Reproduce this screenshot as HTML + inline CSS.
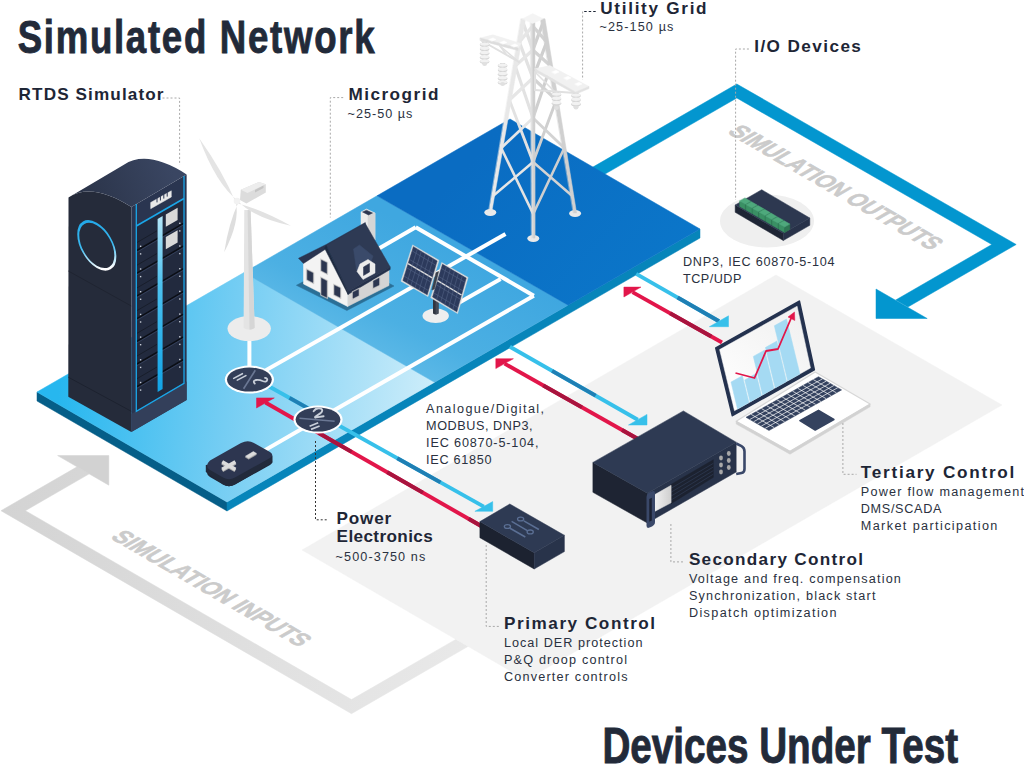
<!DOCTYPE html><html><head><meta charset="utf-8"><style>html,body{margin:0;padding:0;background:#fff;width:1024px;height:774px;overflow:hidden}svg{display:block}</style></head><body>
<svg width="1024" height="774" viewBox="0 0 1024 774">
<defs>
<linearGradient id="gLeft" gradientUnits="userSpaceOnUse" x1="60" y1="380" x2="430" y2="420">
  <stop offset="0" stop-color="#27b7ef"/><stop offset="0.45" stop-color="#74cdf3"/><stop offset="1" stop-color="#cdedfa"/></linearGradient>
<linearGradient id="gMicro" gradientUnits="userSpaceOnUse" x1="420" y1="230" x2="350" y2="370">
  <stop offset="0" stop-color="#3fa7e0"/><stop offset="0.6" stop-color="#4cb0e3"/><stop offset="1" stop-color="#66bee9"/></linearGradient>
<linearGradient id="gUtil" gradientUnits="userSpaceOnUse" x1="480" y1="150" x2="640" y2="300">
  <stop offset="0" stop-color="#0a6cc2"/><stop offset="1" stop-color="#0b76c9"/></linearGradient>
<linearGradient id="gGreyArrow" gradientUnits="userSpaceOnUse" x1="0" y1="500" x2="480" y2="640">
  <stop offset="0" stop-color="#d3d3d3"/><stop offset="1" stop-color="#e9e9e9"/></linearGradient>
<linearGradient id="gRackTop" gradientUnits="userSpaceOnUse" x1="80" y1="200" x2="170" y2="165">
  <stop offset="0" stop-color="#2a3348"/><stop offset="1" stop-color="#3a4662"/></linearGradient>
<linearGradient id="gRing" gradientUnits="userSpaceOnUse" x1="80" y1="225" x2="112" y2="268">
  <stop offset="0" stop-color="#1aa3e6"/><stop offset="0.7" stop-color="#4cc0f0"/><stop offset="1" stop-color="#ffffff"/></linearGradient>
<linearGradient id="gRingL" x1="0" y1="0" x2="0.6" y2="1">
  <stop offset="0" stop-color="#1aa3e6"/><stop offset="0.6" stop-color="#3cbaf0"/><stop offset="1" stop-color="#ffffff"/></linearGradient>
<linearGradient id="gScreen" gradientUnits="userSpaceOnUse" x1="720" y1="400" x2="800" y2="310">
  <stop offset="0" stop-color="#ffffff"/><stop offset="1" stop-color="#f0f0f0"/></linearGradient>
<linearGradient id="gTower" gradientUnits="userSpaceOnUse" x1="0" y1="0" x2="1" y2="0">
  <stop offset="0" stop-color="#ececec"/><stop offset="1" stop-color="#d4d4d4"/></linearGradient>
</defs>
<polygon points="77.1,466.8 1.0,510.7 351.5,713.7 480.0,639.5 480.0,625.4 351.5,699.6 25.4,510.7 89.3,473.8" fill="url(#gGreyArrow)"  stroke="url(#gGreyArrow)" stroke-width="0.5" stroke-linejoin="round"/>
<polygon points="57.6,455.6 108.8,455.6 108.8,485.2" fill="#d2d2d2"  stroke="#d2d2d2" stroke-width="0.5" stroke-linejoin="round"/>
<polygon points="302.0,550.0 776.0,275.0 1002.0,405.0 526.0,680.0" fill="#f2f2f2"  stroke="#f2f2f2" stroke-width="0.5" stroke-linejoin="round"/>
<polygon points="560.8,185.6 736.8,84.0 1016.2,244.5 907.9,307.0 895.7,300.0 991.8,244.5 736.8,98.0 560.8,199.6" fill="#0396cf"  stroke="#0396cf" stroke-width="0.5" stroke-linejoin="round"/>
<polygon points="876.0,289.0 876.0,318.5 927.2,318.5" fill="#0396cf"  stroke="#0396cf" stroke-width="0.5" stroke-linejoin="round"/>
<ellipse cx="767" cy="221" rx="47" ry="26.5" fill="#efefef"/>
<text transform="matrix(0.866,0.5,-0.866,0.5,726.4,132.6)" x="0" y="0" font-family="Liberation Sans, sans-serif" font-size="25.0" font-weight="bold" fill="#cbcbcb" stroke="#cbcbcb" stroke-width="0.7" textLength="236.0" lengthAdjust="spacingAndGlyphs">SIMULATION OUTPUTS</text>
<text transform="matrix(0.866,0.5,-0.866,0.5,109.4,537.8)" x="0" y="0" font-family="Liberation Sans, sans-serif" font-size="25.0" font-weight="bold" fill="#cbcbcb" stroke="#cbcbcb" stroke-width="0.7" textLength="219.0" lengthAdjust="spacingAndGlyphs">SIMULATION INPUTS</text>
<polygon points="37.0,392.0 227.0,502.0 227.0,511.0 37.0,401.0" fill="#055e88"  stroke="#055e88" stroke-width="0.5" stroke-linejoin="round"/>
<polygon points="227.0,502.0 700.0,229.0 700.0,238.0 227.0,511.0" fill="#0785ba"  stroke="#0785ba" stroke-width="0.5" stroke-linejoin="round"/>
<polygon points="37.0,392.0 243.9,272.6 434.5,382.3 227.0,502.0" fill="url(#gLeft)"  stroke="url(#gLeft)" stroke-width="0.5" stroke-linejoin="round"/>
<polygon points="243.9,272.6 377.0,195.8 568.0,305.2 434.5,382.3" fill="url(#gMicro)"  stroke="url(#gMicro)" stroke-width="0.5" stroke-linejoin="round"/>
<polygon points="377.0,195.8 510.0,119.0 700.0,229.0 568.0,305.2" fill="url(#gUtil)"  stroke="url(#gUtil)" stroke-width="0.5" stroke-linejoin="round"/>
<line x1="249.4" y1="379.6" x2="505.5" y2="234.0" stroke="#ffffff" stroke-width="4.0" />
<line x1="318.0" y1="419.6" x2="533.8" y2="295.7" stroke="#ffffff" stroke-width="4.0" />
<line x1="533.8" y1="295.7" x2="415.7" y2="227.3" stroke="#ffffff" stroke-width="4.0" stroke-linejoin="miter"/>
<line x1="415.7" y1="227.3" x2="372.0" y2="252.5" stroke="#ffffff" stroke-width="4.0" />
<line x1="500.6" y1="279.0" x2="455.0" y2="305.0" stroke="#ffffff" stroke-width="4.0" />
<line x1="249.4" y1="330.0" x2="249.4" y2="379.6" stroke="#ffffff" stroke-width="4.0" />
<line x1="318.0" y1="419.6" x2="250.0" y2="458.8" stroke="#ffffff" stroke-width="4.0" />
<g id="rack">
<path d="M68.5,197.4 Q92,181.8 131.4,207 L131.3,432 L68.3,396.8 Z" fill="#252b3a"/>
<path d="M68.3,377.2 L131.3,411.3" stroke="#1b202c" stroke-width="0.8"/>
<path d="M68.3,271 L131.3,306" stroke="#1c212d" stroke-width="0.7"/>
<path d="M131.4,207 L186.6,174.4 L186.6,399.9 L131.3,432 Z" fill="#2a3550"/>
<path d="M68.5,197.4 Q92,181.8 131.4,207 L186.6,174.4 Q147.2,149.2 123.9,164.8 Z" fill="url(#gRackTop)"/>
<path d="M136.3,226 L184,198.5 L184,383.4 L136.3,411.3 Z" fill="#222a3e"/>
<path d="M131.3,414 L186.6,381.5 L186.6,399.9 L131.3,432 Z" fill="#333f5a"/>
<path d="M137,250.5 L183.5,223.3" stroke="#0b0e15" stroke-width="1.5"/>
<path d="M137,252.1 L183.5,224.9" stroke="#3b4866" stroke-width="0.7"/>
<path d="M137,242.5 L157,230.8" stroke="#151a26" stroke-width="0.8"/>
<rect x="139.9" y="245.6" width="1.4" height="1.4" fill="#c9ced8"/>
<rect x="139.9" y="253.2" width="1.4" height="1.4" fill="#c9ced8"/>
<rect x="179.1" y="222.6" width="1.4" height="1.4" fill="#c9ced8"/>
<rect x="179.1" y="230.2" width="1.4" height="1.4" fill="#c9ced8"/>
<path d="M137,273.2 L183.5,246.0" stroke="#0b0e15" stroke-width="1.5"/>
<path d="M137,274.8 L183.5,247.6" stroke="#3b4866" stroke-width="0.7"/>
<path d="M137,265.2 L157,253.5" stroke="#151a26" stroke-width="0.8"/>
<rect x="139.9" y="268.3" width="1.4" height="1.4" fill="#c9ced8"/>
<rect x="139.9" y="275.9" width="1.4" height="1.4" fill="#c9ced8"/>
<rect x="179.1" y="245.3" width="1.4" height="1.4" fill="#c9ced8"/>
<rect x="179.1" y="252.9" width="1.4" height="1.4" fill="#c9ced8"/>
<path d="M137,295.9 L183.5,268.7" stroke="#0b0e15" stroke-width="1.5"/>
<path d="M137,297.5 L183.5,270.3" stroke="#3b4866" stroke-width="0.7"/>
<path d="M137,287.9 L157,276.2" stroke="#151a26" stroke-width="0.8"/>
<rect x="139.9" y="291.0" width="1.4" height="1.4" fill="#c9ced8"/>
<rect x="139.9" y="298.6" width="1.4" height="1.4" fill="#c9ced8"/>
<rect x="179.1" y="268.0" width="1.4" height="1.4" fill="#c9ced8"/>
<rect x="179.1" y="275.6" width="1.4" height="1.4" fill="#c9ced8"/>
<path d="M137,318.6 L183.5,291.4" stroke="#0b0e15" stroke-width="1.5"/>
<path d="M137,320.2 L183.5,293.0" stroke="#3b4866" stroke-width="0.7"/>
<path d="M137,310.6 L157,298.9" stroke="#151a26" stroke-width="0.8"/>
<rect x="139.9" y="313.7" width="1.4" height="1.4" fill="#c9ced8"/>
<rect x="139.9" y="321.3" width="1.4" height="1.4" fill="#c9ced8"/>
<rect x="179.1" y="290.7" width="1.4" height="1.4" fill="#c9ced8"/>
<rect x="179.1" y="298.3" width="1.4" height="1.4" fill="#c9ced8"/>
<path d="M137,341.3 L183.5,314.1" stroke="#0b0e15" stroke-width="1.5"/>
<path d="M137,342.9 L183.5,315.7" stroke="#3b4866" stroke-width="0.7"/>
<path d="M137,333.3 L157,321.6" stroke="#151a26" stroke-width="0.8"/>
<rect x="139.9" y="336.4" width="1.4" height="1.4" fill="#c9ced8"/>
<rect x="139.9" y="344.0" width="1.4" height="1.4" fill="#c9ced8"/>
<rect x="179.1" y="313.4" width="1.4" height="1.4" fill="#c9ced8"/>
<rect x="179.1" y="321.0" width="1.4" height="1.4" fill="#c9ced8"/>
<path d="M137,364.0 L183.5,336.8" stroke="#0b0e15" stroke-width="1.5"/>
<path d="M137,365.6 L183.5,338.4" stroke="#3b4866" stroke-width="0.7"/>
<path d="M137,356.0 L157,344.3" stroke="#151a26" stroke-width="0.8"/>
<rect x="139.9" y="359.1" width="1.4" height="1.4" fill="#c9ced8"/>
<rect x="139.9" y="366.7" width="1.4" height="1.4" fill="#c9ced8"/>
<rect x="179.1" y="336.1" width="1.4" height="1.4" fill="#c9ced8"/>
<rect x="179.1" y="343.7" width="1.4" height="1.4" fill="#c9ced8"/>
<path d="M137,386.7 L183.5,359.5" stroke="#0b0e15" stroke-width="1.5"/>
<path d="M137,388.3 L183.5,361.1" stroke="#3b4866" stroke-width="0.7"/>
<path d="M137,378.7 L157,367.0" stroke="#151a26" stroke-width="0.8"/>
<rect x="139.9" y="381.8" width="1.4" height="1.4" fill="#c9ced8"/>
<rect x="139.9" y="389.4" width="1.4" height="1.4" fill="#c9ced8"/>
<rect x="179.1" y="358.8" width="1.4" height="1.4" fill="#c9ced8"/>
<rect x="179.1" y="366.4" width="1.4" height="1.4" fill="#c9ced8"/>
<path d="M136.3,204 L136.3,411.3 L184,383.4 L184,176" fill="none" stroke="#1aa6e8" stroke-width="1.3"/>
<path d="M136.3,226 L184,198.5" stroke="#1aa6e8" stroke-width="1.6"/>
<linearGradient id="gBar" gradientUnits="userSpaceOnUse" x1="0" y1="215" x2="0" y2="392"><stop offset="0" stop-color="#b6e6f8"/><stop offset="0.4" stop-color="#4cc1ef"/><stop offset="1" stop-color="#11a3e6"/></linearGradient>
<path d="M157.6,219 L162.6,216 L162.6,389 L157.6,392 Z" fill="url(#gBar)"/>
<path d="M165.8,214.5 L177.6,207.8 L177.6,220 L165.8,226.7 Z" fill="#d9d9d9"/>
<path d="M165.8,237 L177.6,230.3 L177.6,242.5 L165.8,249.2 Z" fill="#d9d9d9"/>
<polygon points="150.7,202.5 171.3,190.8 171.3,197.0 150.7,208.7" fill="#e9e9e9"  stroke="#e9e9e9" stroke-width="0.5" stroke-linejoin="round"/>
<line x1="157.0" y1="198.0" x2="157.0" y2="202.4" stroke="#2a3550" stroke-width="1.0" />
<line x1="160.4" y1="196.1" x2="160.4" y2="200.5" stroke="#2a3550" stroke-width="1.0" />
<line x1="163.8" y1="194.2" x2="163.8" y2="198.6" stroke="#2a3550" stroke-width="1.0" />
<line x1="167.2" y1="192.2" x2="167.2" y2="196.6" stroke="#2a3550" stroke-width="1.0" />
<circle cx="0" cy="0" r="21.4" transform="matrix(0.866,0.5,0,1,96.8,245.4)" fill="none" stroke="url(#gRingL)" stroke-width="2.3"/>
</g>
<g id="turbine">
<ellipse cx="249.2" cy="328.6" rx="21.7" ry="12.5" fill="#ececec"/>
<path d="M244.3,210 L250.6,210 L254.7,328 Q249.2,331 243.6,328 Z" fill="#e4e4e4"/>
<path d="M247.6,210 L250.6,210 L254.7,328 Q252,329.5 249.5,329.8 Z" fill="#d6d6d6"/>
<path d="M238.0,200.9 Q216.0,184.0 199.2,138.3 Q222.7,171.4 235.7,202.3 Z" fill="#e4e4e4"/>
<path d="M235.8,201.2 Q240.3,221.2 224.2,252.2 Q228.5,223.6 238.5,201.9 Z" fill="#dedede"/>
<path d="M237.5,200.4 Q252.5,217.3 290.8,225.8 Q262.4,209.9 236.4,202.9 Z" fill="#e2e2e2"/>
<path d="M240.8,189.7 L259,182 L265.8,184.2 L265.8,192.5 L246.4,203.6 L240,200 Z" fill="#dcdcdc"/>
<path d="M240.8,189.7 L259,182 L265.8,184.2 L247.5,193 Z" fill="#ededed"/>
<path d="M255,190 L263.5,185.5 L263.5,188 L255,192.5 Z" fill="#c4c4c4"/>
<circle cx="237" cy="201" r="3.3" fill="#f2f2f2"/>
</g>
<g id="house">
<polygon points="296.4,285.3 346.9,310.5 394.0,286.0 345.0,260.0" fill="#2b6f96"  stroke="#2b6f96" stroke-width="0.5" stroke-linejoin="round"/>
<polygon points="347.6,291.0 389.0,267.5 389.0,285.5 347.6,306.5" fill="#d4d4d4"  stroke="#d4d4d4" stroke-width="0.5" stroke-linejoin="round"/>
<polygon points="303.5,262.5 326.2,248.0 347.6,291.0 347.6,306.5 303.5,284.0" fill="#f3f3f3"  stroke="#f3f3f3" stroke-width="0.5" stroke-linejoin="round"/>
<polygon points="306.3,268.7 313.9,272.5 313.9,283.9 306.3,280.1" fill="#c4c4c4"  stroke="#c4c4c4" stroke-width="0.5" stroke-linejoin="round"/>
<polygon points="307.3,270.2 312.9,273.0 312.9,282.4 307.3,279.6" fill="#2c3650"  stroke="#2c3650" stroke-width="0.5" stroke-linejoin="round"/>
<polygon points="320.5,258.7 327.7,262.3 327.7,274.7 320.5,271.1" fill="#c4c4c4"  stroke="#c4c4c4" stroke-width="0.5" stroke-linejoin="round"/>
<polygon points="321.5,260.2 326.7,262.8 326.7,273.2 321.5,270.6" fill="#2c3650"  stroke="#2c3650" stroke-width="0.5" stroke-linejoin="round"/>
<polygon points="320.5,276.8 327.7,280.4 327.7,298.8 320.5,295.2" fill="#c4c4c4"  stroke="#c4c4c4" stroke-width="0.5" stroke-linejoin="round"/>
<polygon points="321.5,278.3 326.7,280.9 326.7,297.3 321.5,294.7" fill="#2c3650"  stroke="#2c3650" stroke-width="0.5" stroke-linejoin="round"/>
<polygon points="333.5,283.9 341.0,287.6 341.0,298.8 333.5,295.1" fill="#c4c4c4"  stroke="#c4c4c4" stroke-width="0.5" stroke-linejoin="round"/>
<polygon points="334.5,285.4 340.0,288.1 340.0,297.3 334.5,294.6" fill="#2c3650"  stroke="#2c3650" stroke-width="0.5" stroke-linejoin="round"/>
<polygon points="361.0,212.0 366.5,209.0 375.0,213.0 375.0,240.0 361.0,240.0" fill="#ececec"  stroke="#ececec" stroke-width="0.5" stroke-linejoin="round"/>
<polygon points="368.0,212.0 375.0,213.0 375.0,240.0 368.0,240.0" fill="#d6d6d6"  stroke="#d6d6d6" stroke-width="0.5" stroke-linejoin="round"/>
<polygon points="362.5,212.0 366.5,210.2 372.5,213.0 368.5,215.0" fill="#2c3650"  stroke="#2c3650" stroke-width="0.5" stroke-linejoin="round"/>
<polygon points="298.5,258.3 326.2,244.5 365.3,222.5 365.3,225.5 328.0,247.5 303.5,263.5" fill="#2a3550"  stroke="#2a3550" stroke-width="0.5" stroke-linejoin="round"/>
<polygon points="326.2,245.5 365.3,223.5 390.2,267.0 347.8,291.5" fill="#2e3a54"  stroke="#2e3a54" stroke-width="0.5" stroke-linejoin="round"/>
<polygon points="347.8,291.5 390.2,267.0 390.2,269.5 348.0,294.5" fill="#24304a"  stroke="#24304a" stroke-width="0.5" stroke-linejoin="round"/>
<polygon points="326.2,245.5 347.8,291.5 348.0,294.5 324.5,248.0" fill="#1f2a40"  stroke="#1f2a40" stroke-width="0.5" stroke-linejoin="round"/>
<polygon points="353.5,249.0 359.5,245.0 373.0,256.0 366.5,275.0 356.5,270.0" fill="#3a4a6a"  stroke="#3a4a6a" stroke-width="0.5" stroke-linejoin="round"/>
<polygon points="360.0,264.0 368.0,259.5 375.0,264.0 375.0,273.0 363.0,279.5 357.0,271.5" fill="#ececec"  stroke="#ececec" stroke-width="0.5" stroke-linejoin="round"/>
<polygon points="363.5,267.0 369.5,263.5 369.5,272.0 363.5,275.5" fill="#2c3650"  stroke="#2c3650" stroke-width="0.5" stroke-linejoin="round"/>
<polygon points="352.0,291.7 359.5,287.9 359.5,295.9 352.0,299.7" fill="#c4c4c4"  stroke="#c4c4c4" stroke-width="0.5" stroke-linejoin="round"/>
<polygon points="353.0,292.2 358.5,289.4 358.5,295.4 353.0,298.2" fill="#2c3650"  stroke="#2c3650" stroke-width="0.5" stroke-linejoin="round"/>
<polygon points="372.5,280.5 380.0,276.8 380.0,285.4 372.5,289.1" fill="#c4c4c4"  stroke="#c4c4c4" stroke-width="0.5" stroke-linejoin="round"/>
<polygon points="373.5,281.0 379.0,278.2 379.0,284.9 373.5,287.6" fill="#2c3650"  stroke="#2c3650" stroke-width="0.5" stroke-linejoin="round"/>
</g>
<g id="solar">
<ellipse cx="435.7" cy="315.8" rx="13.2" ry="7.3" fill="#eeeeee"/>
<path d="M433,297 L438.5,296 L438.5,313.5 Q435.7,315.5 433,313.5 Z" fill="#30353f"/>
<path d="M435.6,298 L438.5,296 L438.5,313.5 L435.6,314.5 Z" fill="#454b57"/>
<polygon points="412.6,244.9 439.0,260.3 428.0,296.6 401.0,281.2" fill="#dcdcdc"  stroke="#dcdcdc" stroke-width="0.5" stroke-linejoin="round"/>
<polygon points="413.4,246.7 437.1,261.0 427.2,294.8 402.9,280.5" fill="#2c3a5c"  stroke="#2c3a5c" stroke-width="0.5" stroke-linejoin="round"/>
<line x1="408.1" y1="263.6" x2="432.2" y2="277.9" stroke="#dcdcdc" stroke-width="1.4" />
<line x1="417.3" y1="249.1" x2="407.0" y2="282.9" stroke="#5a6a8c" stroke-width="0.5" />
<line x1="421.3" y1="251.5" x2="411.0" y2="285.2" stroke="#5a6a8c" stroke-width="0.5" />
<line x1="425.2" y1="253.9" x2="415.1" y2="287.6" stroke="#5a6a8c" stroke-width="0.5" />
<line x1="429.2" y1="256.3" x2="419.1" y2="290.0" stroke="#5a6a8c" stroke-width="0.5" />
<line x1="433.2" y1="258.6" x2="423.2" y2="292.4" stroke="#5a6a8c" stroke-width="0.5" />
<line x1="412.1" y1="250.9" x2="435.9" y2="265.3" stroke="#5a6a8c" stroke-width="0.5" />
<line x1="409.4" y1="259.4" x2="433.4" y2="273.7" stroke="#5a6a8c" stroke-width="0.5" />
<line x1="406.8" y1="267.8" x2="430.9" y2="282.1" stroke="#5a6a8c" stroke-width="0.5" />
<line x1="404.2" y1="276.2" x2="428.5" y2="290.6" stroke="#5a6a8c" stroke-width="0.5" />
<polygon points="441.7,262.5 468.1,277.4 457.6,313.6 430.7,297.7" fill="#dcdcdc"  stroke="#dcdcdc" stroke-width="0.5" stroke-linejoin="round"/>
<polygon points="442.5,264.3 466.2,278.1 456.8,311.8 432.6,297.0" fill="#2c3a5c"  stroke="#2c3a5c" stroke-width="0.5" stroke-linejoin="round"/>
<line x1="437.5" y1="280.6" x2="461.5" y2="295.0" stroke="#dcdcdc" stroke-width="1.4" />
<line x1="446.4" y1="266.6" x2="436.6" y2="299.5" stroke="#5a6a8c" stroke-width="0.5" />
<line x1="450.4" y1="268.9" x2="440.7" y2="301.9" stroke="#5a6a8c" stroke-width="0.5" />
<line x1="454.4" y1="271.2" x2="444.7" y2="304.4" stroke="#5a6a8c" stroke-width="0.5" />
<line x1="458.3" y1="273.5" x2="448.7" y2="306.9" stroke="#5a6a8c" stroke-width="0.5" />
<line x1="462.3" y1="275.8" x2="452.8" y2="309.3" stroke="#5a6a8c" stroke-width="0.5" />
<line x1="441.2" y1="268.4" x2="465.1" y2="282.3" stroke="#5a6a8c" stroke-width="0.5" />
<line x1="438.8" y1="276.5" x2="462.7" y2="290.8" stroke="#5a6a8c" stroke-width="0.5" />
<line x1="436.3" y1="284.7" x2="460.3" y2="299.2" stroke="#5a6a8c" stroke-width="0.5" />
<line x1="433.8" y1="292.9" x2="458.0" y2="307.6" stroke="#5a6a8c" stroke-width="0.5" />
<polygon points="436.0,272.5 438.6,271.5 434.4,289.0 431.8,290.0" fill="#3a404c"  stroke="#3a404c" stroke-width="0.5" stroke-linejoin="round"/>
</g>
<g id="tower" stroke-linecap="round">
<ellipse cx="490.3" cy="212.5" rx="6" ry="3.4" fill="#eaeaea"/>
<ellipse cx="575.1" cy="213.5" rx="6" ry="3.4" fill="#eaeaea"/>
<ellipse cx="533.3" cy="238.5" rx="6" ry="3.4" fill="#eaeaea"/>
<line x1="522.8" y1="22.0" x2="532.8" y2="50.0" stroke="#e2e2e2" stroke-width="3.4" />
<line x1="532.7" y1="26.0" x2="519.3" y2="42.0" stroke="#e6e6e6" stroke-width="3.4" />
<line x1="519.3" y1="42.0" x2="532.9" y2="78.0" stroke="#e2e2e2" stroke-width="3.3" />
<line x1="532.8" y1="50.0" x2="515.2" y2="66.0" stroke="#e6e6e6" stroke-width="3.2" />
<line x1="515.2" y1="66.0" x2="533.0" y2="118.0" stroke="#e2e2e2" stroke-width="3.1" />
<line x1="532.9" y1="78.0" x2="509.4" y2="100.0" stroke="#e6e6e6" stroke-width="3.1" />
<line x1="509.4" y1="100.0" x2="533.1" y2="162.0" stroke="#e2e2e2" stroke-width="2.9" />
<line x1="533.0" y1="118.0" x2="501.2" y2="148.0" stroke="#e6e6e6" stroke-width="2.8" />
<line x1="501.2" y1="148.0" x2="533.2" y2="214.0" stroke="#e2e2e2" stroke-width="2.6" />
<line x1="533.1" y1="162.0" x2="493.0" y2="196.0" stroke="#e6e6e6" stroke-width="2.5" />
<line x1="543.3" y1="22.0" x2="532.8" y2="50.0" stroke="#cfcfcf" stroke-width="3.4" />
<line x1="532.7" y1="26.0" x2="546.7" y2="42.0" stroke="#d3d3d3" stroke-width="3.4" />
<line x1="546.7" y1="42.0" x2="532.9" y2="78.0" stroke="#cfcfcf" stroke-width="3.3" />
<line x1="532.8" y1="50.0" x2="550.7" y2="66.0" stroke="#d3d3d3" stroke-width="3.2" />
<line x1="550.7" y1="66.0" x2="533.0" y2="118.0" stroke="#cfcfcf" stroke-width="3.1" />
<line x1="532.9" y1="78.0" x2="556.3" y2="100.0" stroke="#d3d3d3" stroke-width="3.1" />
<line x1="556.3" y1="100.0" x2="533.1" y2="162.0" stroke="#cfcfcf" stroke-width="2.9" />
<line x1="533.0" y1="118.0" x2="564.3" y2="148.0" stroke="#d3d3d3" stroke-width="2.8" />
<line x1="564.3" y1="148.0" x2="533.2" y2="214.0" stroke="#cfcfcf" stroke-width="2.6" />
<line x1="533.1" y1="162.0" x2="572.3" y2="196.0" stroke="#d3d3d3" stroke-width="2.5" />
<polygon points="521.0,18.8 525.5,18.8 491.8,211.7 488.8,211.7" fill="#e8e8e8"  stroke="#e8e8e8" stroke-width="0.5" stroke-linejoin="round"/>
<polygon points="540.5,18.8 545.0,18.8 576.6,213.0 573.6,213.0" fill="#d0d0d0"  stroke="#d0d0d0" stroke-width="0.5" stroke-linejoin="round"/>
<polygon points="530.6,22.6 534.8,22.6 534.9,238.0 531.7,238.0" fill="#e0e0e0"  stroke="#e0e0e0" stroke-width="0.5" stroke-linejoin="round"/>
<polygon points="532.9,22.6 534.7,22.6 534.9,238.0 533.5,238.0" fill="#cdcdcd"  stroke="#cdcdcd" stroke-width="0.5" stroke-linejoin="round"/>
<polygon points="522.5,18.8 532.7,13.6 543.3,18.8 532.7,23.4" fill="#f4f4f4"  stroke="#f4f4f4" stroke-width="0.5" stroke-linejoin="round"/>
<polygon points="480.3,38.0 492.8,34.8 521.0,43.5 518.0,48.0" fill="#f1f1f1"  stroke="#f1f1f1" stroke-width="0.5" stroke-linejoin="round"/>
<polygon points="480.3,38.0 518.0,48.0 518.0,50.5 480.3,40.5" fill="#dddddd"  stroke="#dddddd" stroke-width="0.5" stroke-linejoin="round"/>
<line x1="482.0" y1="41.0" x2="519.0" y2="62.0" stroke="#e0e0e0" stroke-width="2.0" />
<line x1="500.0" y1="46.0" x2="519.0" y2="62.0" stroke="#e0e0e0" stroke-width="1.6" />
<line x1="500.0" y1="46.0" x2="506.0" y2="54.0" stroke="#e0e0e0" stroke-width="1.6" />
<polygon points="535.0,68.8 549.8,65.6 589.0,86.4 575.6,92.0" fill="#f1f1f1"  stroke="#f1f1f1" stroke-width="0.5" stroke-linejoin="round"/>
<polygon points="535.0,68.8 575.6,92.0 589.0,86.4 589.0,88.6 575.6,94.3 535.0,71.5" fill="#e2e2e2"  stroke="#e2e2e2" stroke-width="0.5" stroke-linejoin="round"/>
<line x1="535.0" y1="72.0" x2="535.0" y2="90.0" stroke="#e0e0e0" stroke-width="2.0" />
<line x1="535.0" y1="90.0" x2="575.0" y2="93.0" stroke="#e0e0e0" stroke-width="2.0" />
<line x1="535.0" y1="72.0" x2="555.0" y2="92.0" stroke="#e0e0e0" stroke-width="1.6" />
<polygon points="552.0,72.0 556.0,70.2 559.0,72.0 555.0,73.8" fill="#ffffff"  stroke="#ffffff" stroke-width="0.5" stroke-linejoin="round"/>
<polygon points="564.0,78.0 568.0,76.2 571.0,78.0 567.0,79.8" fill="#ffffff"  stroke="#ffffff" stroke-width="0.5" stroke-linejoin="round"/>
<polygon points="575.0,84.0 579.0,82.2 582.0,84.0 578.0,85.8" fill="#ffffff"  stroke="#ffffff" stroke-width="0.5" stroke-linejoin="round"/>
<polygon points="489.0,39.5 493.0,37.9 496.0,39.5 492.0,41.1" fill="#ffffff"  stroke="#ffffff" stroke-width="0.5" stroke-linejoin="round"/>
<polygon points="500.0,42.5 504.0,40.9 507.0,42.5 503.0,44.1" fill="#ffffff"  stroke="#ffffff" stroke-width="0.5" stroke-linejoin="round"/>
<polygon points="511.0,45.5 515.0,43.9 518.0,45.5 514.0,47.1" fill="#ffffff"  stroke="#ffffff" stroke-width="0.5" stroke-linejoin="round"/>
<rect x="482.1" y="42.0" width="5" height="22.0" fill="#d8d8d8"/>
<ellipse cx="484.6" cy="44.8" rx="4.8" ry="2.2" fill="#d6d6d6"/>
<ellipse cx="484.6" cy="44.1" rx="4.5" ry="1.7" fill="#f2f2f2"/>
<ellipse cx="484.6" cy="49.0" rx="4.8" ry="2.2" fill="#d6d6d6"/>
<ellipse cx="484.6" cy="48.3" rx="4.5" ry="1.7" fill="#f2f2f2"/>
<ellipse cx="484.6" cy="53.2" rx="4.8" ry="2.2" fill="#d6d6d6"/>
<ellipse cx="484.6" cy="52.5" rx="4.5" ry="1.7" fill="#f2f2f2"/>
<ellipse cx="484.6" cy="57.4" rx="4.8" ry="2.2" fill="#d6d6d6"/>
<ellipse cx="484.6" cy="56.7" rx="4.5" ry="1.7" fill="#f2f2f2"/>
<ellipse cx="484.6" cy="61.6" rx="4.8" ry="2.2" fill="#d6d6d6"/>
<ellipse cx="484.6" cy="60.9" rx="4.5" ry="1.7" fill="#f2f2f2"/>
<ellipse cx="484.6" cy="64.0" rx="2.4" ry="2.0" fill="#e0e0e0"/>
<rect x="500.1" y="63.0" width="5" height="21.0" fill="#d8d8d8"/>
<ellipse cx="502.6" cy="65.8" rx="4.8" ry="2.2" fill="#d6d6d6"/>
<ellipse cx="502.6" cy="65.1" rx="4.5" ry="1.7" fill="#f2f2f2"/>
<ellipse cx="502.6" cy="70.0" rx="4.8" ry="2.2" fill="#d6d6d6"/>
<ellipse cx="502.6" cy="69.3" rx="4.5" ry="1.7" fill="#f2f2f2"/>
<ellipse cx="502.6" cy="74.2" rx="4.8" ry="2.2" fill="#d6d6d6"/>
<ellipse cx="502.6" cy="73.5" rx="4.5" ry="1.7" fill="#f2f2f2"/>
<ellipse cx="502.6" cy="78.4" rx="4.8" ry="2.2" fill="#d6d6d6"/>
<ellipse cx="502.6" cy="77.7" rx="4.5" ry="1.7" fill="#f2f2f2"/>
<ellipse cx="502.6" cy="82.6" rx="4.8" ry="2.2" fill="#d6d6d6"/>
<ellipse cx="502.6" cy="81.9" rx="4.5" ry="1.7" fill="#f2f2f2"/>
<ellipse cx="502.6" cy="84.0" rx="2.4" ry="2.0" fill="#e0e0e0"/>
<rect x="554.0" y="92.0" width="5" height="16.0" fill="#d8d8d8"/>
<ellipse cx="556.5" cy="94.8" rx="4.8" ry="2.2" fill="#d6d6d6"/>
<ellipse cx="556.5" cy="94.1" rx="4.5" ry="1.7" fill="#f2f2f2"/>
<ellipse cx="556.5" cy="99.0" rx="4.8" ry="2.2" fill="#d6d6d6"/>
<ellipse cx="556.5" cy="98.3" rx="4.5" ry="1.7" fill="#f2f2f2"/>
<ellipse cx="556.5" cy="103.2" rx="4.8" ry="2.2" fill="#d6d6d6"/>
<ellipse cx="556.5" cy="102.5" rx="4.5" ry="1.7" fill="#f2f2f2"/>
<ellipse cx="556.5" cy="108.0" rx="2.4" ry="2.0" fill="#e0e0e0"/>
<rect x="573.5" y="93.0" width="5" height="14.5" fill="#d8d8d8"/>
<ellipse cx="576.0" cy="95.8" rx="4.8" ry="2.2" fill="#d6d6d6"/>
<ellipse cx="576.0" cy="95.1" rx="4.5" ry="1.7" fill="#f2f2f2"/>
<ellipse cx="576.0" cy="100.0" rx="4.8" ry="2.2" fill="#d6d6d6"/>
<ellipse cx="576.0" cy="99.3" rx="4.5" ry="1.7" fill="#f2f2f2"/>
<ellipse cx="576.0" cy="104.2" rx="4.8" ry="2.2" fill="#d6d6d6"/>
<ellipse cx="576.0" cy="103.5" rx="4.5" ry="1.7" fill="#f2f2f2"/>
<ellipse cx="576.0" cy="107.5" rx="2.4" ry="2.0" fill="#e0e0e0"/>
</g>
<g id="battery">
<path d="M210,460.5 L241,443 Q248,439.5 254,443 L270,452 Q274.5,455 270,458 L235,477.5 Q229,481 223,477.5 L210,470 Q204,466 210,460.5 Z" transform="translate(0,7)" fill="#1f2636"/>
<path d="M205.8,465 L205.8,472 L223,484.5 Q229,488 235,484.5 L272.5,462.5 L272.5,455.5 Z" fill="#222a3b"/>
<path d="M210,460.5 L241,443 Q248,439.5 254,443 L270,452 Q274.5,455 270,458 L235,477.5 Q229,481 223,477.5 L210,470 Q204,466 210,460.5 Z" fill="#2d3650"/>
<path d="M222.2,462.9 L235.4,470.5 M222.2,470.5 L235.4,462.9" stroke="#a9a9a9" stroke-width="3.6"/>
<path d="M222.2,461.8 L235.4,469.4 M222.2,469.4 L235.4,461.8" stroke="#dcdcdc" stroke-width="3.6"/>
<polygon points="245.4,457.3 253.3,452.7 256.6,454.6 248.7,459.2" fill="#a9a9a9"  stroke="#a9a9a9" stroke-width="0.5" stroke-linejoin="round"/>
<polygon points="245.4,456.2 253.3,451.6 256.6,453.4 248.7,458.1" fill="#dcdcdc"  stroke="#dcdcdc" stroke-width="0.5" stroke-linejoin="round"/>
</g>
<line x1="262.0" y1="382.5" x2="483.8" y2="506.6" stroke="#37c0ea" stroke-width="3.9"/>
<line x1="289.5" y1="397.9" x2="308.6" y2="408.6" stroke="#1f7fb4" stroke-width="3.9"/>
<line x1="397.3" y1="458.2" x2="440.5" y2="482.4" stroke="#1f7fb4" stroke-width="3.9"/>
<polygon points="474.9,511.3 492.7,501.6 492.7,511.3" fill="#37c0ea"  stroke="#37c0ea" stroke-width="0.5" stroke-linejoin="round"/>
<line x1="265.4" y1="402.5" x2="482.0" y2="526.5" stroke="#e2164a" stroke-width="3.9"/>
<line x1="318.7" y1="433.0" x2="351.6" y2="451.9" stroke="#a8143e" stroke-width="3.9"/>
<line x1="387.3" y1="472.3" x2="422.9" y2="492.6" stroke="#a8143e" stroke-width="3.9"/>
<line x1="468.6" y1="518.8" x2="482.0" y2="526.5" stroke="#a8143e" stroke-width="3.9"/>
<polygon points="256.5,397.9 274.3,397.9 256.5,408.0" fill="#e2164a"  stroke="#e2164a" stroke-width="0.5" stroke-linejoin="round"/>
<line x1="509.9" y1="346.8" x2="637.8" y2="419.7" stroke="#37c0ea" stroke-width="3.9"/>
<line x1="552.1" y1="370.9" x2="595.6" y2="395.6" stroke="#1f7fb4" stroke-width="3.9"/>
<polygon points="628.5,425.0 647.0,414.4 647.0,425.0" fill="#37c0ea"  stroke="#37c0ea" stroke-width="0.5" stroke-linejoin="round"/>
<line x1="504.6" y1="363.6" x2="638.0" y2="439.0" stroke="#e2164a" stroke-width="3.9"/>
<line x1="543.3" y1="385.5" x2="582.0" y2="407.4" stroke="#a8143e" stroke-width="3.9"/>
<line x1="622.0" y1="430.0" x2="638.0" y2="439.0" stroke="#a8143e" stroke-width="3.9"/>
<polygon points="495.8,358.7 513.4,358.7 495.8,368.6" fill="#e2164a"  stroke="#e2164a" stroke-width="0.5" stroke-linejoin="round"/>
<line x1="636.2" y1="273.9" x2="719.0" y2="321.2" stroke="#37c0ea" stroke-width="3.9"/>
<line x1="677.6" y1="297.5" x2="719.0" y2="321.2" stroke="#1f7fb4" stroke-width="3.9"/>
<polygon points="709.4,326.7 728.5,315.8 728.5,326.7" fill="#37c0ea"  stroke="#37c0ea" stroke-width="0.5" stroke-linejoin="round"/>
<line x1="632.5" y1="292.1" x2="722.0" y2="342.5" stroke="#e2164a" stroke-width="3.9"/>
<line x1="670.1" y1="313.3" x2="711.3" y2="336.5" stroke="#a8143e" stroke-width="3.9"/>
<polygon points="623.9,287.1 641.0,287.1 623.9,297.0" fill="#e2164a"  stroke="#e2164a" stroke-width="0.5" stroke-linejoin="round"/>
<ellipse cx="249.4" cy="379.6" rx="24.6" ry="14.0" fill="#ffffff"/>
<ellipse cx="249.4" cy="379.6" rx="22.4" ry="12.0" fill="#333e58"/>
<line x1="243.6" y1="388.7" x2="255.3" y2="370.2" stroke="#6b7894" stroke-width="1.6" />
<path d="M233.7,378.4 L242.4,373.7 M237.3,380.1 L245.9,375.6" stroke="#c9cfd9" stroke-width="1.6" fill="none" stroke-linecap="round"/>
<path d="M254.8,383.6 Q252.2,380.6 256.4,380 Q260,379.8 262.5,381 Q266.6,382.6 267.2,380 Q267.6,378.2 265,377.8" stroke="#c9cfd9" stroke-width="1.8" fill="none" stroke-linecap="round"/>
<ellipse cx="318.0" cy="419.6" rx="24.6" ry="14.0" fill="#ffffff"/>
<ellipse cx="318.0" cy="419.6" rx="22.4" ry="12.0" fill="#333e58"/>
<line x1="299.5" y1="418.3" x2="334.6" y2="421.3" stroke="#6b7894" stroke-width="1.5" />
<path d="M313.6,411.2 Q316.4,407.2 320.8,408.6 Q324,410.4 320.2,413.4 L315.2,416.8 Q314.6,417.6 316.2,417.4 L323.6,416.2" stroke="#c9cfd9" stroke-width="1.9" fill="none" stroke-linecap="round" stroke-linejoin="round"/>
<path d="M309.6,426.2 L318.2,422.8 M311,429.4 L319.6,426" stroke="#c9cfd9" stroke-width="1.7" fill="none"/>
<g id="io">
<polygon points="735.2,205.0 783.3,233.2 783.3,240.5 735.2,212.3" fill="#1e2535"  stroke="#1e2535" stroke-width="0.5" stroke-linejoin="round"/>
<polygon points="783.3,233.2 809.8,218.0 809.8,225.3 783.3,240.5" fill="#283249"  stroke="#283249" stroke-width="0.5" stroke-linejoin="round"/>
<polygon points="735.2,205.0 761.7,189.7 809.8,218.0 783.3,233.2" fill="#2d3850"  stroke="#2d3850" stroke-width="0.5" stroke-linejoin="round"/>
<polygon points="739.7,206.4 745.4,209.7 745.4,204.2 739.7,200.9" fill="#3a9064"  stroke="#3a9064" stroke-width="0.5" stroke-linejoin="round"/>
<polygon points="745.4,209.7 750.6,206.7 750.6,201.2 745.4,204.2" fill="#2e7853"  stroke="#2e7853" stroke-width="0.5" stroke-linejoin="round"/>
<polygon points="739.7,200.9 745.4,204.2 750.6,201.2 744.9,197.9" fill="#4ea97c"  stroke="#4ea97c" stroke-width="0.5" stroke-linejoin="round"/>
<polygon points="746.2,210.2 752.0,213.5 752.0,208.0 746.2,204.7" fill="#3a9064"  stroke="#3a9064" stroke-width="0.5" stroke-linejoin="round"/>
<polygon points="752.0,213.5 757.1,210.5 757.1,205.0 752.0,208.0" fill="#2e7853"  stroke="#2e7853" stroke-width="0.5" stroke-linejoin="round"/>
<polygon points="746.2,204.7 752.0,208.0 757.1,205.0 751.4,201.7" fill="#4ea97c"  stroke="#4ea97c" stroke-width="0.5" stroke-linejoin="round"/>
<polygon points="752.8,214.0 758.5,217.3 758.5,211.8 752.8,208.5" fill="#3a9064"  stroke="#3a9064" stroke-width="0.5" stroke-linejoin="round"/>
<polygon points="758.5,217.3 763.7,214.3 763.7,208.8 758.5,211.8" fill="#2e7853"  stroke="#2e7853" stroke-width="0.5" stroke-linejoin="round"/>
<polygon points="752.8,208.5 758.5,211.8 763.7,208.8 758.0,205.5" fill="#4ea97c"  stroke="#4ea97c" stroke-width="0.5" stroke-linejoin="round"/>
<polygon points="759.3,217.8 765.0,221.1 765.0,215.6 759.3,212.3" fill="#3a9064"  stroke="#3a9064" stroke-width="0.5" stroke-linejoin="round"/>
<polygon points="765.0,221.1 770.2,218.1 770.2,212.6 765.0,215.6" fill="#2e7853"  stroke="#2e7853" stroke-width="0.5" stroke-linejoin="round"/>
<polygon points="759.3,212.3 765.0,215.6 770.2,212.6 764.5,209.3" fill="#4ea97c"  stroke="#4ea97c" stroke-width="0.5" stroke-linejoin="round"/>
<polygon points="765.8,221.6 771.5,224.9 771.5,219.4 765.8,216.1" fill="#3a9064"  stroke="#3a9064" stroke-width="0.5" stroke-linejoin="round"/>
<polygon points="771.5,224.9 776.7,221.9 776.7,216.4 771.5,219.4" fill="#2e7853"  stroke="#2e7853" stroke-width="0.5" stroke-linejoin="round"/>
<polygon points="765.8,216.1 771.5,219.4 776.7,216.4 771.0,213.1" fill="#4ea97c"  stroke="#4ea97c" stroke-width="0.5" stroke-linejoin="round"/>
<polygon points="772.3,225.4 778.1,228.7 778.1,223.2 772.3,219.9" fill="#3a9064"  stroke="#3a9064" stroke-width="0.5" stroke-linejoin="round"/>
<polygon points="778.1,228.7 783.3,225.7 783.3,220.2 778.1,223.2" fill="#2e7853"  stroke="#2e7853" stroke-width="0.5" stroke-linejoin="round"/>
<polygon points="772.3,219.9 778.1,223.2 783.3,220.2 777.5,216.9" fill="#4ea97c"  stroke="#4ea97c" stroke-width="0.5" stroke-linejoin="round"/>
<polygon points="778.9,229.2 784.6,232.5 784.6,227.0 778.9,223.7" fill="#3a9064"  stroke="#3a9064" stroke-width="0.5" stroke-linejoin="round"/>
<polygon points="784.6,232.5 789.8,229.5 789.8,224.0 784.6,227.0" fill="#2e7853"  stroke="#2e7853" stroke-width="0.5" stroke-linejoin="round"/>
<polygon points="778.9,223.7 784.6,227.0 789.8,224.0 784.1,220.7" fill="#4ea97c"  stroke="#4ea97c" stroke-width="0.5" stroke-linejoin="round"/>
</g>
<g id="laptop">
<polygon points="736.2,421.3 815.2,372.0 870.1,404.1 790.0,451.3" fill="#ffffff" stroke="#d7d7d7" stroke-width="1.2" stroke-linejoin="round"/>
<polygon points="736.2,421.3 790.0,451.3 870.1,404.1 870.1,406.8 790.0,454.2 736.2,424.0" fill="#d2d2d2"  stroke="#d2d2d2" stroke-width="0.5" stroke-linejoin="round"/>
<polygon points="746.0,417.3 818.5,376.7 841.6,389.9 769.0,430.5" fill="#34425f"  stroke="#34425f" stroke-width="0.5" stroke-linejoin="round"/>
<line x1="749.8" y1="419.5" x2="822.4" y2="378.9" stroke="#ffffff" stroke-width="0.7" />
<line x1="753.7" y1="421.7" x2="826.2" y2="381.1" stroke="#ffffff" stroke-width="0.7" />
<line x1="757.5" y1="423.9" x2="830.0" y2="383.3" stroke="#ffffff" stroke-width="0.7" />
<line x1="761.3" y1="426.1" x2="833.9" y2="385.5" stroke="#ffffff" stroke-width="0.7" />
<line x1="765.2" y1="428.3" x2="837.8" y2="387.7" stroke="#ffffff" stroke-width="0.7" />
<line x1="751.2" y1="414.4" x2="774.2" y2="427.6" stroke="#ffffff" stroke-width="0.7" />
<line x1="756.4" y1="411.5" x2="779.4" y2="424.7" stroke="#ffffff" stroke-width="0.7" />
<line x1="761.5" y1="408.6" x2="784.6" y2="421.8" stroke="#ffffff" stroke-width="0.7" />
<line x1="766.7" y1="405.7" x2="789.7" y2="418.9" stroke="#ffffff" stroke-width="0.7" />
<line x1="771.9" y1="402.8" x2="794.9" y2="416.0" stroke="#ffffff" stroke-width="0.7" />
<line x1="777.1" y1="399.9" x2="800.1" y2="413.1" stroke="#ffffff" stroke-width="0.7" />
<line x1="782.2" y1="397.0" x2="805.3" y2="410.2" stroke="#ffffff" stroke-width="0.7" />
<line x1="787.4" y1="394.1" x2="810.5" y2="407.3" stroke="#ffffff" stroke-width="0.7" />
<line x1="792.6" y1="391.2" x2="815.7" y2="404.4" stroke="#ffffff" stroke-width="0.7" />
<line x1="797.8" y1="388.3" x2="820.9" y2="401.5" stroke="#ffffff" stroke-width="0.7" />
<line x1="803.0" y1="385.4" x2="826.0" y2="398.6" stroke="#ffffff" stroke-width="0.7" />
<line x1="808.1" y1="382.5" x2="831.2" y2="395.7" stroke="#ffffff" stroke-width="0.7" />
<line x1="813.3" y1="379.6" x2="836.4" y2="392.8" stroke="#ffffff" stroke-width="0.7" />
<polygon points="799.9,420.6 818.5,410.3 833.9,419.5 815.2,430.0" fill="#34425f" stroke="#34425f" stroke-width="1.5" stroke-linejoin="round"/>
<polygon points="715.9,348.0 799.3,301.3 814.2,369.6 732.4,415.5" fill="#24324f" stroke="#24324f" stroke-width="1.8" stroke-linejoin="round"/>
<polygon points="719.6,349.6 797.1,306.2 810.5,368.0 734.5,410.7" fill="url(#gScreen)"  stroke="url(#gScreen)" stroke-width="0.5" stroke-linejoin="round"/>
<polygon points="737.5,409.0 749.0,402.6 742.4,375.7 731.0,382.1" fill="#a5daf3"  stroke="#a5daf3" stroke-width="0.5" stroke-linejoin="round"/>
<polygon points="750.1,401.9 761.5,395.5 756.1,373.5 744.7,379.9" fill="#a5daf3"  stroke="#a5daf3" stroke-width="0.5" stroke-linejoin="round"/>
<polygon points="762.6,394.9 774.0,388.5 764.7,350.0 753.3,356.4" fill="#a5daf3"  stroke="#a5daf3" stroke-width="0.5" stroke-linejoin="round"/>
<polygon points="775.2,387.9 786.6,381.5 776.8,341.1 765.4,347.5" fill="#a5daf3"  stroke="#a5daf3" stroke-width="0.5" stroke-linejoin="round"/>
<polygon points="787.7,380.8 799.9,374.0 786.5,319.0 774.3,325.8" fill="#a5daf3"  stroke="#a5daf3" stroke-width="0.5" stroke-linejoin="round"/>
<polyline points="735.5,373 754.5,378 766,351 778,349 792.5,315" fill="none" stroke="#e2164a" stroke-width="1.8" stroke-linejoin="round"/>
<polygon points="788.0,317.0 794.5,312.0 794.8,320.5" fill="#e2164a"  stroke="#e2164a" stroke-width="0.5" stroke-linejoin="round"/>
</g>
<g id="secondary">
<polygon points="592.9,462.4 647.4,493.2 647.4,523.0 592.9,492.3" fill="#1e2433"  stroke="#1e2433" stroke-width="0.5" stroke-linejoin="round"/>
<polygon points="647.4,493.2 736.2,442.2 736.2,472.0 647.4,523.0" fill="#28334a"  stroke="#28334a" stroke-width="0.5" stroke-linejoin="round"/>
<polygon points="592.9,462.4 683.4,410.9 736.2,442.2 647.4,493.2" fill="#2e3a53"  stroke="#2e3a53" stroke-width="0.5" stroke-linejoin="round"/>
<polygon points="671.1,484.4 713.3,459.8 713.3,477.3 671.1,503.7" fill="#1c2230"  stroke="#1c2230" stroke-width="0.5" stroke-linejoin="round"/>
<line x1="671.1" y1="488.3" x2="713.3" y2="463.4" stroke="#33405a" stroke-width="0.6" />
<line x1="671.1" y1="492.2" x2="713.3" y2="467.0" stroke="#33405a" stroke-width="0.6" />
<line x1="671.1" y1="496.1" x2="713.3" y2="470.6" stroke="#33405a" stroke-width="0.6" />
<line x1="671.1" y1="500.0" x2="713.3" y2="474.2" stroke="#33405a" stroke-width="0.6" />
<linearGradient id="gPanel" x1="0" y1="0" x2="1" y2="0"><stop offset="0" stop-color="#f4f4f4"/><stop offset="1" stop-color="#cfcfcf"/></linearGradient>
<polygon points="652.7,495.8 671.1,485.3 671.1,502.8 652.7,512.5" fill="url(#gPanel)"  stroke="url(#gPanel)" stroke-width="0.5" stroke-linejoin="round"/>
<ellipse cx="721.0" cy="458.0" rx="1.9" ry="2.4" fill="#a8a8a8"/>
<ellipse cx="728.8" cy="453.5" rx="1.9" ry="2.4" fill="#a8a8a8"/>
<ellipse cx="721.0" cy="465.0" rx="1.9" ry="2.4" fill="#a8a8a8"/>
<ellipse cx="728.8" cy="460.5" rx="1.9" ry="2.4" fill="#a8a8a8"/>
<ellipse cx="721.0" cy="472.0" rx="1.9" ry="2.4" fill="#a8a8a8"/>
<ellipse cx="728.8" cy="467.5" rx="1.9" ry="2.4" fill="#a8a8a8"/>
<path d="M646.5,497.5 Q646.5,494 649.5,492.6 L652.5,491.2 Q655,490.5 655,493.5 L655,522 Q655,525 652,526.4 L649.5,527.6 Q646.5,529 646.5,525.5 Z" fill="#3a4869"/>
<path d="M649.3,499 L651.8,497.8 L651.8,520.5 L649.3,521.7 Z" fill="#1a2030"/>
<path d="M736.2,443.5 L741.5,446.2 Q744.5,447.8 744.5,451.5 L744.5,469 Q744.5,472.5 741.5,473 L736.2,474" fill="none" stroke="#3a4869" stroke-width="2.6"/>
</g>
<g id="primary">
<polygon points="479.9,521.6 534.2,552.8 534.2,569.0 479.9,537.7" fill="#1c2230"  stroke="#1c2230" stroke-width="0.5" stroke-linejoin="round"/>
<polygon points="534.2,552.8 564.4,535.3 564.4,551.6 534.2,569.0" fill="#28334a"  stroke="#28334a" stroke-width="0.5" stroke-linejoin="round"/>
<polygon points="479.9,521.6 509.8,504.0 564.4,535.3 534.2,552.8" fill="#2e3a53"  stroke="#2e3a53" stroke-width="0.5" stroke-linejoin="round"/>
<line x1="509.6" y1="528.0" x2="525.3" y2="537.0" stroke="#5b6f94" stroke-width="1.5" />
<line x1="523.8" y1="520.9" x2="538.9" y2="529.5" stroke="#5b6f94" stroke-width="1.5" />
<line x1="511.6" y1="521.4" x2="527.8" y2="530.8" stroke="#5b6f94" stroke-width="1.5" />
<ellipse cx="507.4" cy="526.5" rx="3.1" ry="1.9" fill="#2e3a53" stroke="#5b6f94" stroke-width="1.3"/>
<ellipse cx="520.6" cy="519.0" rx="3.1" ry="1.9" fill="#2e3a53" stroke="#5b6f94" stroke-width="1.3"/>
<ellipse cx="530.2" cy="531.9" rx="3.1" ry="1.9" fill="#2e3a53" stroke="#5b6f94" stroke-width="1.3"/>
</g>
<polyline points="162.5,98.0 179.6,98.0 179.6,165.0" fill="none" stroke="#a8a8a8" stroke-width="1.0" stroke-dasharray="2,2"/>
<polyline points="343.2,97.6 330.3,97.6 330.3,217.5" fill="none" stroke="#a8a8a8" stroke-width="1.0" stroke-dasharray="2,2"/>
<polyline points="582.6,11.5 582.6,79.7" fill="none" stroke="#a8a8a8" stroke-width="1.0" stroke-dasharray="2,2"/>
<polyline points="595.7,11.5 582.6,11.5" fill="none" stroke="#1e2636" stroke-width="1.2" stroke-dasharray="2.5,2"/>
<polyline points="748.9,49.0 735.6,49.0 735.6,200.0" fill="none" stroke="#a8a8a8" stroke-width="1.0" stroke-dasharray="2,2"/>
<polyline points="315.5,441.0 315.5,519.8 328.5,519.8" fill="none" stroke="#333" stroke-width="1.0" stroke-dasharray="2,2"/>
<polyline points="486.2,545.0 486.2,626.4 499.3,626.4" fill="none" stroke="#a8a8a8" stroke-width="1.0" stroke-dasharray="2,2"/>
<polyline points="670.9,524.0 670.9,561.9 684.9,561.9" fill="none" stroke="#a8a8a8" stroke-width="1.0" stroke-dasharray="2,2"/>
<polyline points="842.9,423.0 842.9,474.3 856.5,474.3" fill="none" stroke="#a8a8a8" stroke-width="1.0" stroke-dasharray="2,2"/>
<text x="18.6" y="99.7" font-family="Liberation Sans, sans-serif" font-size="17.15" font-weight="bold" fill="#1e2636" textLength="144.9" lengthAdjust="spacing" >RTDS Simulator</text>
<text x="348.4" y="100.1" font-family="Liberation Sans, sans-serif" font-size="17.15" font-weight="bold" fill="#1e2636" textLength="90.0" lengthAdjust="spacing" >Microgrid</text>
<text x="600.2" y="13.7" font-family="Liberation Sans, sans-serif" font-size="17.15" font-weight="bold" fill="#1e2636" textLength="106.4" lengthAdjust="spacing" >Utility Grid</text>
<text x="754.2" y="51.9" font-family="Liberation Sans, sans-serif" font-size="17.15" font-weight="bold" fill="#1e2636" textLength="106.7" lengthAdjust="spacing" >I/O Devices</text>
<text x="336.6" y="523.9" font-family="Liberation Sans, sans-serif" font-size="17.15" font-weight="bold" fill="#1e2636" textLength="54.5" lengthAdjust="spacing" >Power</text>
<text x="336.6" y="542.4" font-family="Liberation Sans, sans-serif" font-size="17.15" font-weight="bold" fill="#1e2636" textLength="96.2" lengthAdjust="spacing" >Electronics</text>
<text x="504.1" y="628.7" font-family="Liberation Sans, sans-serif" font-size="17.15" font-weight="bold" fill="#1e2636" textLength="151.0" lengthAdjust="spacing" >Primary Control</text>
<text x="688.9" y="564.9" font-family="Liberation Sans, sans-serif" font-size="17.15" font-weight="bold" fill="#1e2636" textLength="174.1" lengthAdjust="spacing" >Secondary Control</text>
<text x="860.8" y="477.7" font-family="Liberation Sans, sans-serif" font-size="17.15" font-weight="bold" fill="#1e2636" textLength="153.5" lengthAdjust="spacing" >Tertiary Control</text>
<text x="347.6" y="117.6" font-family="Liberation Sans, sans-serif" font-size="12.65" font-weight="normal" fill="#2a3140" textLength="64.8" lengthAdjust="spacing" >~25-50 µs</text>
<text x="599.4" y="30.8" font-family="Liberation Sans, sans-serif" font-size="12.65" font-weight="normal" fill="#2a3140" textLength="74.0" lengthAdjust="spacing" >~25-150 µs</text>
<text x="683.0" y="265.8" font-family="Liberation Sans, sans-serif" font-size="12.65" font-weight="normal" fill="#2a3140" textLength="151.6" lengthAdjust="spacing" >DNP3, IEC 60870-5-104</text>
<text x="683.0" y="282.9" font-family="Liberation Sans, sans-serif" font-size="12.65" font-weight="normal" fill="#2a3140" textLength="58.4" lengthAdjust="spacing" >TCP/UDP</text>
<text x="426.1" y="412.8" font-family="Liberation Sans, sans-serif" font-size="12.65" font-weight="normal" fill="#2a3140" textLength="118.0" lengthAdjust="spacing" >Analogue/Digital,</text>
<text x="426.1" y="429.9" font-family="Liberation Sans, sans-serif" font-size="12.65" font-weight="normal" fill="#2a3140" textLength="106.4" lengthAdjust="spacing" >MODBUS, DNP3,</text>
<text x="426.1" y="447.0" font-family="Liberation Sans, sans-serif" font-size="12.65" font-weight="normal" fill="#2a3140" textLength="112.3" lengthAdjust="spacing" >IEC 60870-5-104,</text>
<text x="426.1" y="463.8" font-family="Liberation Sans, sans-serif" font-size="12.65" font-weight="normal" fill="#2a3140" textLength="65.4" lengthAdjust="spacing" >IEC 61850</text>
<text x="335.6" y="560.8" font-family="Liberation Sans, sans-serif" font-size="12.65" font-weight="normal" fill="#2a3140" textLength="89.7" lengthAdjust="spacing" >~500-3750 ns</text>
<text x="503.9" y="647.2" font-family="Liberation Sans, sans-serif" font-size="12.65" font-weight="normal" fill="#2a3140" textLength="138.6" lengthAdjust="spacing" >Local DER protection</text>
<text x="503.9" y="663.9" font-family="Liberation Sans, sans-serif" font-size="12.65" font-weight="normal" fill="#2a3140" textLength="123.1" lengthAdjust="spacing" >P&amp;Q droop control</text>
<text x="503.9" y="680.9" font-family="Liberation Sans, sans-serif" font-size="12.65" font-weight="normal" fill="#2a3140" textLength="123.6" lengthAdjust="spacing" >Converter controls</text>
<text x="688.9" y="583.0" font-family="Liberation Sans, sans-serif" font-size="12.65" font-weight="normal" fill="#2a3140" textLength="212.0" lengthAdjust="spacing" >Voltage and freq. compensation</text>
<text x="688.9" y="600.1" font-family="Liberation Sans, sans-serif" font-size="12.65" font-weight="normal" fill="#2a3140" textLength="186.5" lengthAdjust="spacing" >Synchronization, black start</text>
<text x="688.9" y="616.5" font-family="Liberation Sans, sans-serif" font-size="12.65" font-weight="normal" fill="#2a3140" textLength="147.6" lengthAdjust="spacing" >Dispatch optimization</text>
<text x="860.8" y="496.1" font-family="Liberation Sans, sans-serif" font-size="12.65" font-weight="normal" fill="#2a3140" textLength="163.2" lengthAdjust="spacing" >Power flow management</text>
<text x="860.8" y="512.8" font-family="Liberation Sans, sans-serif" font-size="12.65" font-weight="normal" fill="#2a3140" textLength="80.6" lengthAdjust="spacing" >DMS/SCADA</text>
<text x="860.8" y="529.8" font-family="Liberation Sans, sans-serif" font-size="12.65" font-weight="normal" fill="#2a3140" textLength="136.6" lengthAdjust="spacing" >Market participation</text>
<text transform="scale(0.780,1)" x="22.6" y="52.7" font-family="Liberation Sans, sans-serif" font-size="46.95" font-weight="bold" fill="#222a39" textLength="457.6" lengthAdjust="spacing" stroke="#222a39" stroke-width="0.9">Simulated Network</text>
<text transform="scale(0.780,1)" x="772.4" y="763.2" font-family="Liberation Sans, sans-serif" font-size="49.56" font-weight="bold" fill="#222a39" textLength="455.9" lengthAdjust="spacing" stroke="#222a39" stroke-width="0.9">Devices Under Test</text>
</svg></body></html>
